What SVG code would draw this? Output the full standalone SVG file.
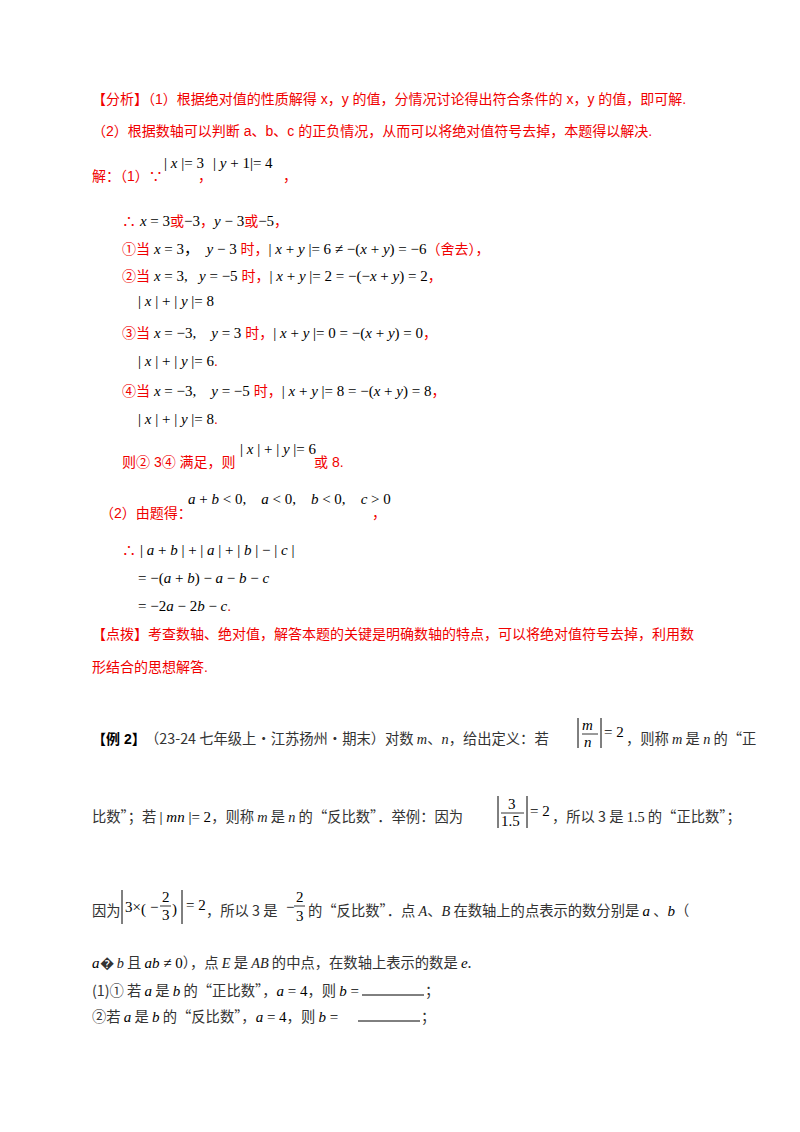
<svg xmlns="http://www.w3.org/2000/svg" width="800" height="1132" viewBox="0 0 800 1132" xml:space="preserve">
<style>
text{font-family:"Liberation Sans","Noto Sans CJK SC",sans-serif;font-size:14px;white-space:pre;}
.r{fill:#f00000;}
.k{fill:#000;}
.m{font-family:"Liberation Serif","Noto Sans CJK SC",serif;font-size:15px;fill:#000;}
.i{font-style:italic;}
.b{font-weight:bold;}
.s{font-family:"Liberation Serif","Noto Sans CJK SC",serif;fill:#222;}
.c{font-family:"Noto Sans CJK SC",sans-serif;font-size:14.3px;fill:#333;}
</style>
<rect width="800" height="1132" fill="#fff"/>
<g id="analysis">
<text class="r" x="92" y="104">【分析】（1）根据绝对值的性质解得 x，y 的值，分情况讨论得出符合条件的 x，y 的值，即可解.</text>
<text class="r" x="92" y="136">（2）根据数轴可以判断 a、b、c 的正负情况，从而可以将绝对值符号去掉，本题得以解决.</text>
</g>
<g id="solution1">
<text class="r" x="92" y="181">解：（1）∵</text>
<text class="m" x="164" y="168">| <tspan class="i">x</tspan> |= 3</text>
<text class="r" x="198" y="181">，</text>
<text class="m" x="213" y="168">| <tspan class="i">y</tspan> + 1|= 4</text>
<text class="r" x="283" y="181">，</text>
<text class="r" x="122" y="226">∴ <tspan class="m"><tspan class="i">x</tspan> = 3</tspan>或<tspan class="m">−3</tspan>，<tspan class="m"><tspan class="i">y</tspan> − 3</tspan>或<tspan class="m">−5</tspan>，</text>
<text class="r" x="122" y="254">①当 <tspan class="m"><tspan class="i">x</tspan> = 3，  <tspan class="i">y</tspan> − 3</tspan> 时，<tspan class="m">| <tspan class="i">x</tspan> + <tspan class="i">y</tspan> |= 6 ≠ −(<tspan class="i">x</tspan> + <tspan class="i">y</tspan>) = −6</tspan>（舍去），</text>
<text class="r" x="122" y="281">②当 <tspan class="m"><tspan class="i">x</tspan> = 3,   <tspan class="i">y</tspan> = −5</tspan> 时，<tspan class="m">| <tspan class="i">x</tspan> + <tspan class="i">y</tspan> |= 2 = −(−<tspan class="i">x</tspan> + <tspan class="i">y</tspan>) = 2</tspan>，</text>
<text class="m" x="138" y="306">| <tspan class="i">x</tspan> | + | <tspan class="i">y</tspan> |= 8</text>
<text class="r" x="122" y="338">③当 <tspan class="m"><tspan class="i">x</tspan> = −3,    <tspan class="i">y</tspan> = 3</tspan> 时，<tspan class="m">| <tspan class="i">x</tspan> + <tspan class="i">y</tspan> |= 0 = −(<tspan class="i">x</tspan> + <tspan class="i">y</tspan>) = 0</tspan>，</text>
<text class="r" x="138" y="366"><tspan class="m">| <tspan class="i">x</tspan> | + | <tspan class="i">y</tspan> |= 6</tspan>.</text>
<text class="r" x="122" y="396">④当 <tspan class="m"><tspan class="i">x</tspan> = −3,    <tspan class="i">y</tspan> = −5</tspan> 时，<tspan class="m">| <tspan class="i">x</tspan> + <tspan class="i">y</tspan> |= 8 = −(<tspan class="i">x</tspan> + <tspan class="i">y</tspan>) = 8</tspan>，</text>
<text class="r" x="138" y="424"><tspan class="m">| <tspan class="i">x</tspan> | + | <tspan class="i">y</tspan> |= 8</tspan>.</text>
<text class="r" x="122" y="467">则② 3④ 满足，则</text>
<text class="m" x="240" y="454">| <tspan class="i">x</tspan> | + | <tspan class="i">y</tspan> |= 6</text>
<text class="r" x="314" y="467">或 8.</text>
</g>
<g id="solution2">
<text class="r" x="100" y="518">（2）由题得：</text>
<text class="m" x="188" y="504"><tspan class="i">a</tspan> + <tspan class="i">b</tspan> &lt; 0,    <tspan class="i">a</tspan> &lt; 0,    <tspan class="i">b</tspan> &lt; 0,    <tspan class="i">c</tspan> &gt; 0</text>
<text class="r" x="372" y="518">，</text>
<text class="r" x="122" y="555">∴ <tspan class="m">| <tspan class="i">a</tspan> + <tspan class="i">b</tspan> | + | <tspan class="i">a</tspan> | + | <tspan class="i">b</tspan> | − | <tspan class="i">c</tspan> |</tspan></text>
<text class="m" x="138" y="583">= −(<tspan class="i">a</tspan> + <tspan class="i">b</tspan>) − <tspan class="i">a</tspan> − <tspan class="i">b</tspan> − <tspan class="i">c</tspan></text>
<text class="r" x="138" y="611"><tspan class="m">= −2<tspan class="i">a</tspan> − 2<tspan class="i">b</tspan> − <tspan class="i">c</tspan></tspan>.</text>
</g>
<g id="tip">
<text class="r" x="92" y="639">【点拨】考查数轴、绝对值，解答本题的关键是明确数轴的特点，可以将绝对值符号去掉，利用数</text>
<text class="r" x="92" y="672">形结合的思想解答.</text>
</g>
<g id="example2">
<text class="k b" x="92" y="744" font-size="15">【例 2】</text>
<text class="c" x="145" y="744">（23-24 七年级上·江苏扬州·期末）对数 <tspan class="s i">m</tspan>、<tspan class="s i">n</tspan>，给出定义：若</text>
<line x1="578" y1="718" x2="578" y2="748" stroke="#000" stroke-width="1"/>
<line x1="601" y1="718" x2="601" y2="748" stroke="#000" stroke-width="1"/>
<text class="m i" x="582" y="730">m</text>
<line x1="582" y1="734" x2="598" y2="734" stroke="#000" stroke-width="0.8"/>
<text class="m i" x="584" y="747">n</text>
<text class="m" x="604" y="737">= 2</text>
<text class="c" x="626" y="744">，则称 <tspan class="s i">m</tspan> 是 <tspan class="s i">n</tspan> 的“正</text>
<text class="c" x="92" y="822">比数”；若 <tspan class="m">| <tspan class="i">mn</tspan> |= 2</tspan>，则称 <tspan class="s i">m</tspan> 是 <tspan class="s i">n</tspan> 的“反比数”．举例：因为</text>
<line x1="498" y1="796" x2="498" y2="828" stroke="#000"/>
<line x1="527" y1="796" x2="527" y2="828" stroke="#000"/>
<text class="m" x="508" y="809">3</text>
<line x1="501" y1="813" x2="524" y2="813" stroke="#000" stroke-width="0.8"/>
<text class="m" x="501" y="826">1.5</text>
<text class="m" x="530" y="816">= 2</text>
<text class="c" x="552" y="822">，所以 3 是 <tspan class="s">1.5</tspan> 的“正比数”；</text>
<text class="c" x="92" y="916">因为</text>
<line x1="122" y1="890" x2="122" y2="924" stroke="#000"/>
<line x1="182" y1="890" x2="182" y2="924" stroke="#000"/>
<text class="m" x="125" y="912">3×</text>
<text class="m" x="141" y="914" font-size="22">(</text>
<text class="m" x="150" y="912">−</text>
<text class="m" x="162" y="902">2</text>
<line x1="160" y1="906" x2="171" y2="906" stroke="#000" stroke-width="0.8"/>
<text class="m" x="162" y="920">3</text>
<text class="m" x="172" y="914" font-size="22">)</text>
<text class="m" x="186" y="910">= 2</text>
<text class="c" x="206" y="916">，所以 3 是</text>
<text class="m" x="286" y="912">−</text>
<text class="m" x="296" y="902">2</text>
<line x1="294" y1="906" x2="305" y2="906" stroke="#000" stroke-width="0.8"/>
<text class="m" x="296" y="921">3</text>
<text class="c" x="308" y="916">的“反比数”．点 <tspan class="s i">A</tspan>、<tspan class="s i">B</tspan> 在数轴上的点表示的数分别是 <tspan class="m i">a</tspan> 、<tspan class="m i">b</tspan>（</text>
<text class="c" x="92" y="968"><tspan class="m i">a</tspan>� <tspan class="s i">b</tspan> 且 <tspan class="m"><tspan class="i">ab</tspan> ≠ 0</tspan>），点 <tspan class="s i">E</tspan> 是 <tspan class="s i">AB</tspan> 的中点，在数轴上表示的数是 <tspan class="m i">e</tspan>.</text>
<text class="c" x="92" y="996">(1)① 若 <tspan class="m i">a</tspan> 是 <tspan class="m i">b</tspan> 的“正比数”，<tspan class="m"><tspan class="i">a</tspan> = 4</tspan>，则 <tspan class="m"><tspan class="i">b</tspan> =</tspan></text>
<line x1="362" y1="995" x2="424" y2="995" stroke="#000"/>
<text class="c" x="425" y="996">；</text>
<text class="c" x="92" y="1022">②若 <tspan class="m i">a</tspan> 是 <tspan class="m i">b</tspan> 的“反比数”，<tspan class="m"><tspan class="i">a</tspan> = 4</tspan>，则 <tspan class="m"><tspan class="i">b</tspan> =</tspan></text>
<line x1="358" y1="1021" x2="420" y2="1021" stroke="#000"/>
<text class="c" x="421" y="1022">；</text>
</g>
</svg>
